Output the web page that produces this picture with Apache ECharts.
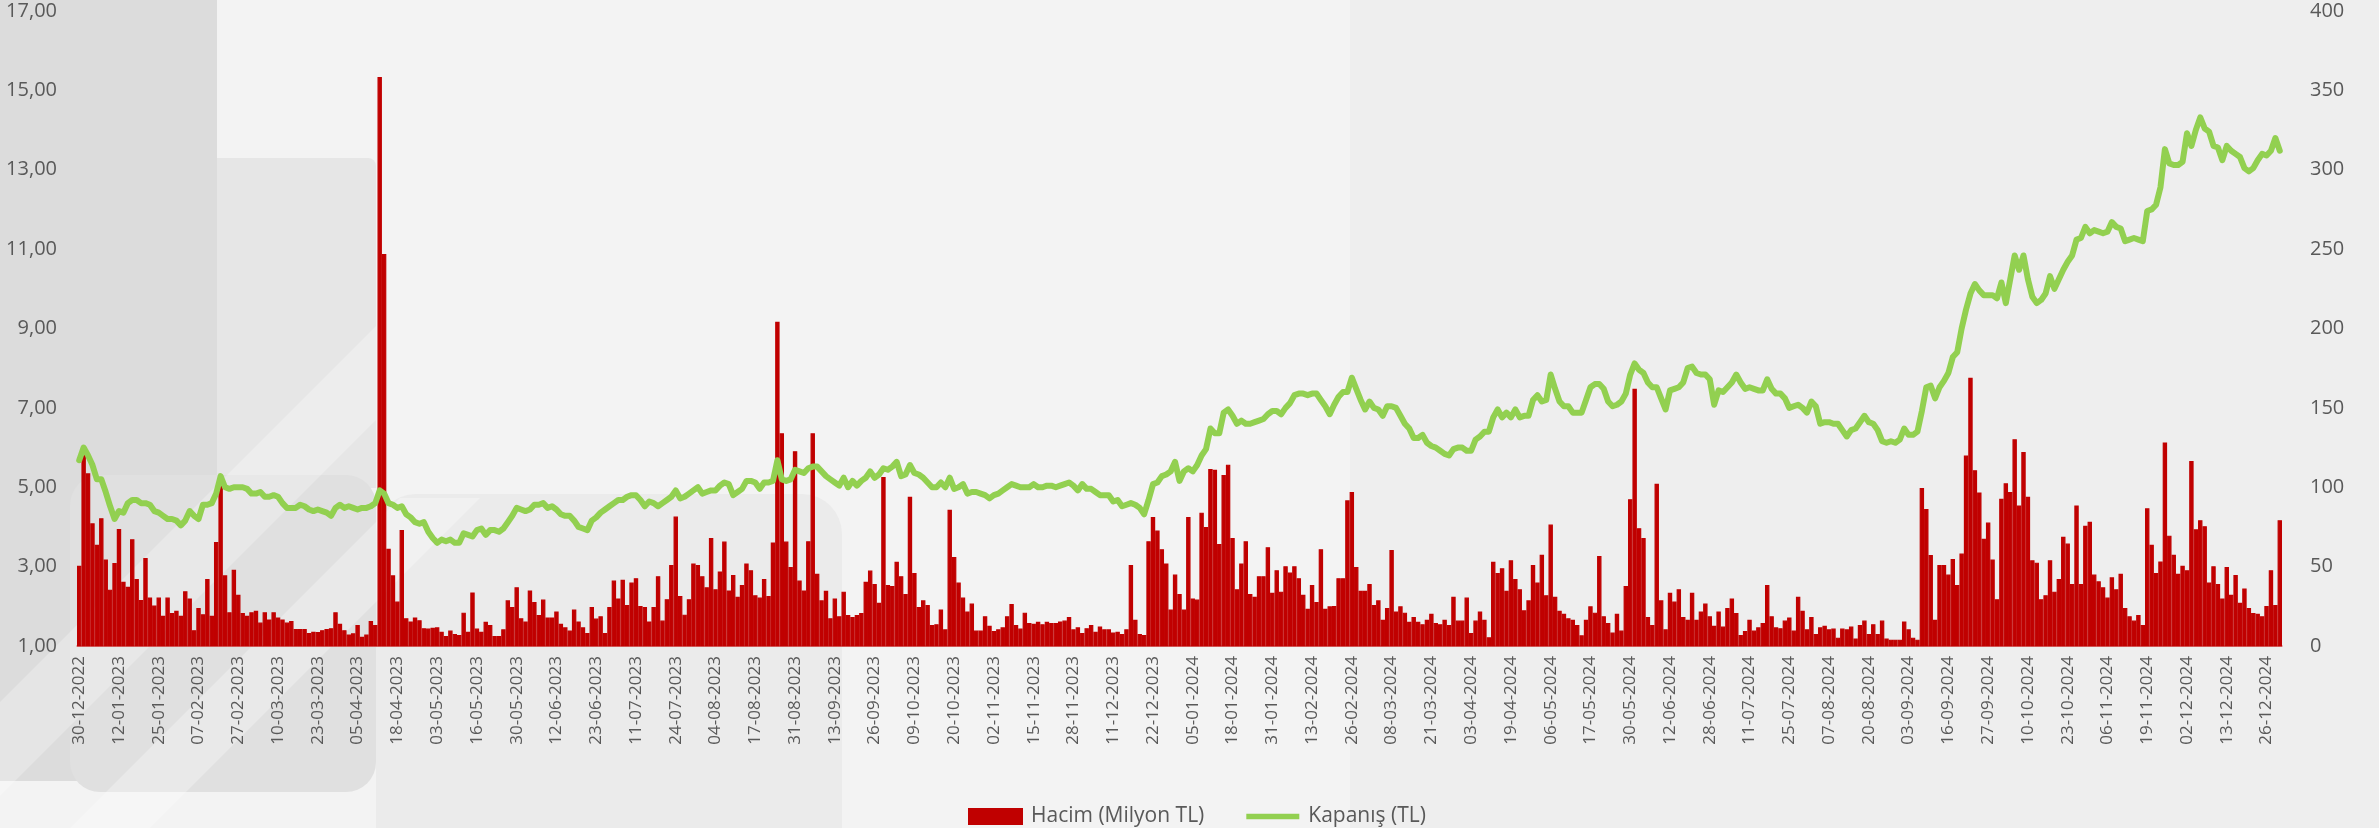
<!DOCTYPE html>
<html>
<head>
<meta charset="utf-8">
<title>Hacim / Kapanış</title>
<script src="https://cdn.jsdelivr.net/npm/echarts@6/dist/echarts.min.js"></script>
<style>
html, body { margin: 0; padding: 0; background: #f3f3f3; }
#main { width: 2379px; height: 828px; }
</style>
</head>
<body>
<div id="main"></div>
<script>
// islem gunleri (ay -> gun listesi)
var tradingMonths = [
    ['12-2022', '30'],
    ['01-2023', '02 03 04 05 06 09 10 11 12 13 16 17 18 19 20 23 24 25 26 27 30 31'],
    ['02-2023', '01 02 03 06 07 15 16 17 20 21 22 23 24 27 28'],
    ['03-2023', '01 02 03 06 07 08 09 10 13 14 15 16 17 20 21 22 23 24 27 28 29 30 31'],
    ['04-2023', '03 04 05 06 07 10 11 12 13 14 17 18 19 20 24 25 26 27 28'],
    ['05-2023', '02 03 04 05 08 09 10 11 12 15 16 17 18 22 23 24 25 26 29 30 31'],
    ['06-2023', '01 02 05 06 07 08 09 12 13 14 15 16 19 20 21 22 23 26 27'],
    ['07-2023', '03 04 05 06 07 10 11 12 13 14 17 18 19 20 21 24 25 26 27 28 31'],
    ['08-2023', '01 02 03 04 07 08 09 10 11 14 15 16 17 18 21 22 23 24 25 28 29 31'],
    ['09-2023', '01 04 05 06 07 08 11 12 13 14 15 18 19 20 21 22 25 26 27 28 29'],
    ['10-2023', '02 03 04 05 06 09 10 11 12 13 16 17 18 19 20 23 24 25 26 27 30 31'],
    ['11-2023', '01 02 03 06 07 08 09 10 13 14 15 16 17 20 21 22 23 24 27 28 29 30'],
    ['12-2023', '01 04 05 06 07 08 11 12 13 14 15 18 19 20 21 22 25 26 27 28 29'],
    ['01-2024', '02 03 04 05 08 09 10 11 12 15 16 17 18 19 22 23 24 25 26 29 30 31'],
    ['02-2024', '01 02 05 06 07 08 09 12 13 14 15 16 19 20 21 22 23 26 27 28 29'],
    ['03-2024', '01 04 05 06 07 08 11 12 13 14 15 18 19 20 21 22 25 26 27 28 29'],
    ['04-2024', '01 02 03 04 05 08 09 15 16 17 18 19 22 24 25 26 29 30'],
    ['05-2024', '02 03 06 07 08 09 10 13 14 15 16 17 20 21 22 23 24 27 28 29 30 31'],
    ['06-2024', '03 04 05 06 07 10 11 12 13 14 20 21 24 25 26 27 28'],
    ['07-2024', '01 02 03 04 05 08 09 10 11 12 16 17 18 19 22 23 24 25 26 29 30 31'],
    ['08-2024', '01 02 05 06 07 08 09 12 13 14 15 16 19 20 21 22 23 26 27 28 29'],
    ['09-2024', '02 03 04 05 06 09 10 11 12 13 16 17 18 19 20 23 24 25 26 27 30'],
    ['10-2024', '01 02 03 04 07 08 09 10 11 14 15 16 17 18 21 22 23 24 25 28 30 31'],
    ['11-2024', '01 04 05 06 07 08 11 12 13 14 15 18 19 20 21 22 25 26 27 28 29'],
    ['12-2024', '02 03 04 05 06 09 10 11 12 13 16 17 18 19 20 23 24 25 26 27 30 31']
];

// Hacim (Milyon TL)
var hacim = [
    3.02, 5.89, 5.35, 4.09, 3.55, 4.22, 3.18, 2.42, 3.09, 3.95,
    2.62, 2.49, 3.69, 2.69, 2.16, 3.22, 2.22, 2.02, 2.22, 1.76,
    2.22, 1.83, 1.89, 1.76, 2.38, 2.20, 1.40, 1.96, 1.80, 2.69,
    1.76, 3.62, 5.13, 2.78, 1.85, 2.92, 2.29, 1.83, 1.76, 1.85,
    1.89, 1.59, 1.85, 1.67, 1.85, 1.72, 1.67, 1.59, 1.63, 1.43,
    1.43, 1.43, 1.33, 1.36, 1.35, 1.40, 1.43, 1.45, 1.85, 1.56,
    1.40, 1.29, 1.32, 1.53, 1.23, 1.29, 1.63, 1.53, 15.34, 10.88,
    3.45, 2.78, 2.12, 3.92, 1.70, 1.62, 1.72, 1.65, 1.45, 1.44,
    1.46, 1.47, 1.36, 1.25, 1.39, 1.30, 1.28, 1.84, 1.36, 2.35,
    1.44, 1.36, 1.61, 1.53, 1.25, 1.25, 1.42, 2.15, 1.98, 2.48,
    1.70, 1.62, 2.40, 2.11, 1.78, 2.17, 1.72, 1.72, 1.87, 1.56,
    1.47, 1.39, 1.92, 1.62, 1.47, 1.33, 1.98, 1.69, 1.75, 1.33,
    1.98, 2.65, 2.20, 2.67, 2.03, 2.60, 2.71, 2.01, 1.98, 1.62,
    1.98, 2.76, 1.64, 2.18, 3.04, 4.26, 2.26, 1.79, 2.18, 3.08,
    3.04, 2.76, 2.48, 3.72, 2.43, 2.88, 3.63, 2.40, 2.79, 2.24,
    2.54, 3.08, 2.91, 2.28, 2.22, 2.69, 2.26, 3.61, 9.17, 6.36,
    3.63, 2.99, 5.91, 2.65, 2.40, 3.64, 6.36, 2.82, 2.15, 2.39,
    1.70, 2.20, 1.75, 2.37, 1.78, 1.73, 1.78, 1.83, 2.62, 2.90,
    2.56, 2.09, 5.26, 2.54, 2.51, 3.12, 2.76, 2.31, 4.76, 2.84,
    1.98, 2.15, 2.03, 1.53, 1.55, 1.92, 1.42, 4.43, 3.24, 2.60,
    2.22, 1.87, 2.07, 1.39, 1.39, 1.75, 1.51, 1.38, 1.42, 1.47,
    1.75, 2.06, 1.53, 1.44, 1.84, 1.58, 1.56, 1.61, 1.55, 1.61,
    1.58, 1.58, 1.62, 1.64, 1.73, 1.42, 1.47, 1.33, 1.45, 1.53,
    1.36, 1.49, 1.42, 1.42, 1.34, 1.36, 1.30, 1.42, 3.04, 1.66,
    1.30, 1.28, 3.64, 4.25, 3.91, 3.44, 3.08, 1.92, 2.80, 2.31,
    1.92, 4.25, 2.20, 2.17, 4.36, 4.00, 5.46, 5.44, 3.57, 5.31,
    5.57, 3.72, 2.43, 3.08, 3.64, 2.31, 2.24, 2.76, 2.76, 3.49,
    2.34, 2.91, 2.37, 3.01, 2.85, 3.01, 2.71, 2.29, 1.94, 2.54,
    2.11, 3.44, 1.94, 2.00, 2.01, 2.71, 2.71, 4.67, 4.88, 2.99,
    2.39, 2.39, 2.56, 2.03, 2.15, 1.66, 1.96, 3.42, 1.87, 2.00,
    1.84, 1.61, 1.73, 1.61, 1.55, 1.66, 1.81, 1.58, 1.55, 1.66,
    1.53, 2.24, 1.64, 1.64, 2.22, 1.33, 1.64, 1.87, 1.66, 1.22,
    3.12, 2.84, 2.96, 2.39, 3.16, 2.69, 2.43, 1.90, 2.15, 3.04,
    2.60, 3.30, 2.28, 4.06, 2.24, 1.89, 1.81, 1.70, 1.66, 1.53,
    1.27, 1.66, 2.00, 1.84, 3.27, 1.75, 1.58, 1.34, 1.81, 1.39,
    2.51, 4.70, 7.48, 3.97, 3.72, 1.73, 1.53, 5.09, 2.15, 1.42,
    2.34, 2.12, 2.43, 1.73, 1.66, 2.34, 1.66, 1.87, 2.07, 1.75,
    1.51, 1.87, 1.49, 1.96, 2.20, 1.83, 1.28, 1.38, 1.66, 1.39,
    1.47, 1.58, 2.54, 1.75, 1.47, 1.45, 1.64, 1.72, 1.39, 2.24,
    1.89, 1.42, 1.73, 1.30, 1.47, 1.51, 1.42, 1.44, 1.21, 1.44,
    1.42, 1.49, 1.19, 1.53, 1.64, 1.30, 1.55, 1.30, 1.64, 1.19,
    1.16, 1.16, 1.16, 1.62, 1.42, 1.21, 1.16, 4.98, 4.45, 3.29,
    1.66, 3.04, 3.04, 2.80, 3.19, 2.54, 3.33, 5.80, 7.76, 5.43,
    4.87, 3.70, 4.11, 3.18, 2.18, 4.71, 5.10, 4.88, 6.21, 4.54,
    5.89, 4.76, 3.16, 3.10, 2.18, 2.28, 3.16, 2.37, 2.69, 3.75,
    3.58, 2.56, 4.54, 2.56, 4.03, 4.13, 2.80, 2.63, 2.48, 2.22,
    2.73, 2.43, 2.82, 1.96, 1.75, 1.64, 1.78, 1.53, 4.47, 3.55,
    2.84, 3.13, 6.13, 3.78, 3.30, 2.82, 3.02, 2.91, 5.66, 3.94,
    4.17, 4.02, 2.60, 3.01, 2.56, 2.20, 2.99, 2.29, 2.79, 2.09,
    2.45, 1.96, 1.83, 1.81, 1.75, 2.01, 2.91, 2.03, 4.17
];

// Kapanış (TL)
var kapanis = [
    117, 125, 120, 114, 105, 105, 97, 88, 80, 85,
    84, 90, 92, 92, 90, 90, 89, 85, 84, 82,
    80, 80, 79, 76, 79, 85, 82, 80, 89, 89,
    90, 96, 107, 100, 99, 100, 100, 100, 99, 96,
    96, 97, 94, 94, 95, 94, 90, 87, 87, 87,
    89, 88, 86, 85, 86, 85, 84, 82, 87, 89,
    87, 88, 87, 86, 87, 87, 88, 90, 98, 96,
    90, 89, 87, 88, 83, 81, 78, 77, 78, 72,
    68, 65, 67, 66, 67, 65, 65, 71, 70, 69,
    73, 74, 70, 73, 73, 72, 74, 78, 82, 87,
    86, 85, 86, 89, 89, 90, 87, 88, 86, 83,
    82, 82, 79, 75, 74, 73, 79, 81, 84, 86,
    88, 90, 92, 92, 94, 95, 95, 92, 88, 91,
    90, 88, 90, 92, 94, 98, 93, 94, 96, 98,
    100, 96, 97, 98, 98, 101, 103, 102, 95, 97,
    99, 104, 104, 103, 99, 103, 103, 104, 117, 105,
    104, 105, 111, 110, 109, 112, 113, 113, 110, 107,
    105, 103, 101, 106, 100, 104, 101, 104, 106, 110,
    106, 108, 112, 111, 113, 116, 107, 108, 114, 109,
    108, 106, 103, 100, 100, 103, 100, 106, 99, 100,
    102, 96, 97, 97, 96, 95, 93, 95, 96, 98,
    100, 102, 101, 100, 100, 100, 102, 100, 100, 101,
    101, 100, 101, 102, 103, 101, 98, 102, 99, 99,
    97, 95, 95, 95, 91, 92, 88, 89, 90, 89,
    87, 83, 92, 102, 103, 107, 108, 110, 116, 104,
    110, 112, 110, 114, 120, 124, 137, 134, 134, 147,
    149, 145, 140, 142, 140, 140, 141, 142, 143, 146,
    148, 148, 146, 150, 153, 158, 159, 159, 158, 159,
    159, 155, 151, 146, 152, 157, 160, 160, 169, 162,
    155, 149, 154, 150, 149, 145, 151, 151, 150, 145,
    140, 137, 131, 131, 133, 128, 126, 125, 123, 121,
    120, 124, 125, 125, 123, 123, 130, 132, 135, 135,
    144, 149, 144, 147, 144, 149, 144, 145, 145, 155,
    158, 154, 155, 171, 162, 154, 151, 151, 147, 147,
    147, 155, 163, 165, 165, 162, 154, 151, 152, 154,
    159, 171, 178, 174, 172, 166, 163, 163, 156, 149,
    161, 162, 163, 166, 175, 176, 172, 171, 171, 168,
    152, 161, 160, 163, 166, 171, 166, 162, 163, 162,
    161, 161, 168, 162, 159, 159, 156, 150, 151, 152,
    150, 147, 154, 151, 140, 141, 141, 140, 140, 136,
    132, 136, 137, 141, 145, 141, 140, 136, 129, 128,
    129, 128, 130, 137, 133, 133, 135, 148, 163, 164,
    156, 163, 167, 172, 182, 185, 200, 212, 222, 228,
    224, 221, 221, 221, 219, 229, 216, 231, 246, 237,
    246, 231, 220, 216, 218, 222, 233, 225, 231, 237,
    242, 246, 256, 257, 264, 260, 262, 261, 260, 261,
    267, 264, 263, 255, 256, 257, 256, 255, 274, 275,
    278, 289, 313, 304, 303, 303, 305, 323, 315, 325,
    333, 326, 324, 315, 314, 306, 315, 312, 310, 308,
    301, 299, 301, 306, 310, 309, 312, 320, 312
];

var leftTicks = { min: 1, max: 17, interval: 2 };
var rightTicks = { min: 0, max: 400, interval: 50 };

var dates = [];
for (var m = 0; m < tradingMonths.length; m++) {
    var days = tradingMonths[m][1].split(' ');
    for (var d = 0; d < days.length; d++) {
        dates.push(days[d] + '-' + tradingMonths[m][0]);
    }
}

var labelColor = '#595959';
var fontName = 'Open Sans';
var barColor = '#c00000';
var lineColor = '#92d050';

var chart = echarts.init(document.getElementById('main'), null, { renderer: 'canvas' });
chart.setOption({
    backgroundColor: '#f3f3f3',
    animation: false,
    // arka plan gri sekiller
    graphic: [
        { type: 'rect', z: -10, shape: { x: 1350, y: 0, width: 1029, height: 828 }, style: { fill: '#eeeeee' } },
        { type: 'rect', z: -10, shape: { x: 376, y: 494, width: 466, height: 400, r: 40 }, style: { fill: '#ebebeb' } },
        { type: 'rect', z: -9, shape: { x: -40, y: -40, width: 257, height: 821, r: 40 }, style: { fill: '#dcdcdc' } },
        { type: 'rect', z: -9, shape: { x: 217, y: 158, width: 159, height: 330, r: [0, 8, 0, 0] }, style: { fill: '#e6e6e6' } },
        { type: 'rect', z: -8, shape: { x: 70, y: 475, width: 306, height: 317, r: 30 }, style: { fill: '#e0e0e0' } },
        { type: 'polygon', z: -7, shape: { points: [[0, 702], [376, 326], [376, 420], [64, 732], [0, 796]] }, style: { fill: 'rgba(255,255,255,0.28)' } },
        { type: 'polygon', z: -7, shape: { points: [[70, 828], [150, 828], [480, 498], [400, 498]] }, style: { fill: 'rgba(255,255,255,0.3)' } }
    ],
    grid: { left: 77, right: 97, top: 11, bottom: 182, containLabel: false },
    legend: {
        left: 963,
        top: 801,
        itemWidth: 53,
        itemHeight: 15,
        itemGap: 42,
        textStyle: { color: labelColor, fontSize: 21, fontFamily: fontName, padding: [0, 0, 0, 4] },
        data: [
            { name: 'Hacim (Milyon TL)', icon: 'rect' },
            { name: 'Kapanış (TL)', icon: 'path://M0,0 L100,0 L100,10 L0,10 Z' }
        ]
    },
    xAxis: {
        type: 'category',
        data: dates,
        boundaryGap: true,
        axisTick: { show: false },
        axisLine: { lineStyle: { color: '#e3a9a9', width: 2 } },
        axisLabel: {
            rotate: 90,
            interval: 8,
            margin: 10,
            color: labelColor,
            fontSize: 17,
            fontFamily: fontName
        },
        splitLine: { show: false }
    },
    yAxis: [
        {
            type: 'value',
            position: 'left',
            min: leftTicks.min,
            max: leftTicks.max,
            interval: leftTicks.interval,
            axisLine: { show: false },
            axisTick: { show: false },
            splitLine: { show: false },
            axisLabel: {
                margin: 20,
                color: labelColor,
                fontSize: 20,
                fontFamily: fontName,
                formatter: function (v) { return v.toFixed(2).replace('.', ','); }
            }
        },
        {
            type: 'value',
            position: 'right',
            min: rightTicks.min,
            max: rightTicks.max,
            interval: rightTicks.interval,
            axisLine: { show: false },
            axisTick: { show: false },
            splitLine: { show: false },
            axisLabel: { margin: 28, color: labelColor, fontSize: 20, fontFamily: fontName }
        }
    ],
    series: [
        {
            name: 'Hacim (Milyon TL)',
            type: 'bar',
            yAxisIndex: 0,
            data: hacim,
            barCategoryGap: '0%',
            itemStyle: { color: barColor, borderColor: barColor, borderWidth: 1.2 }
        },
        {
            name: 'Kapanış (TL)',
            type: 'line',
            yAxisIndex: 1,
            data: kapanis,
            symbol: 'none',
            z: 3,
            lineStyle: { color: lineColor, width: 6, cap: 'round', join: 'round' },
            itemStyle: { color: lineColor }
        }
    ]
});
</script>
</body>
</html>
